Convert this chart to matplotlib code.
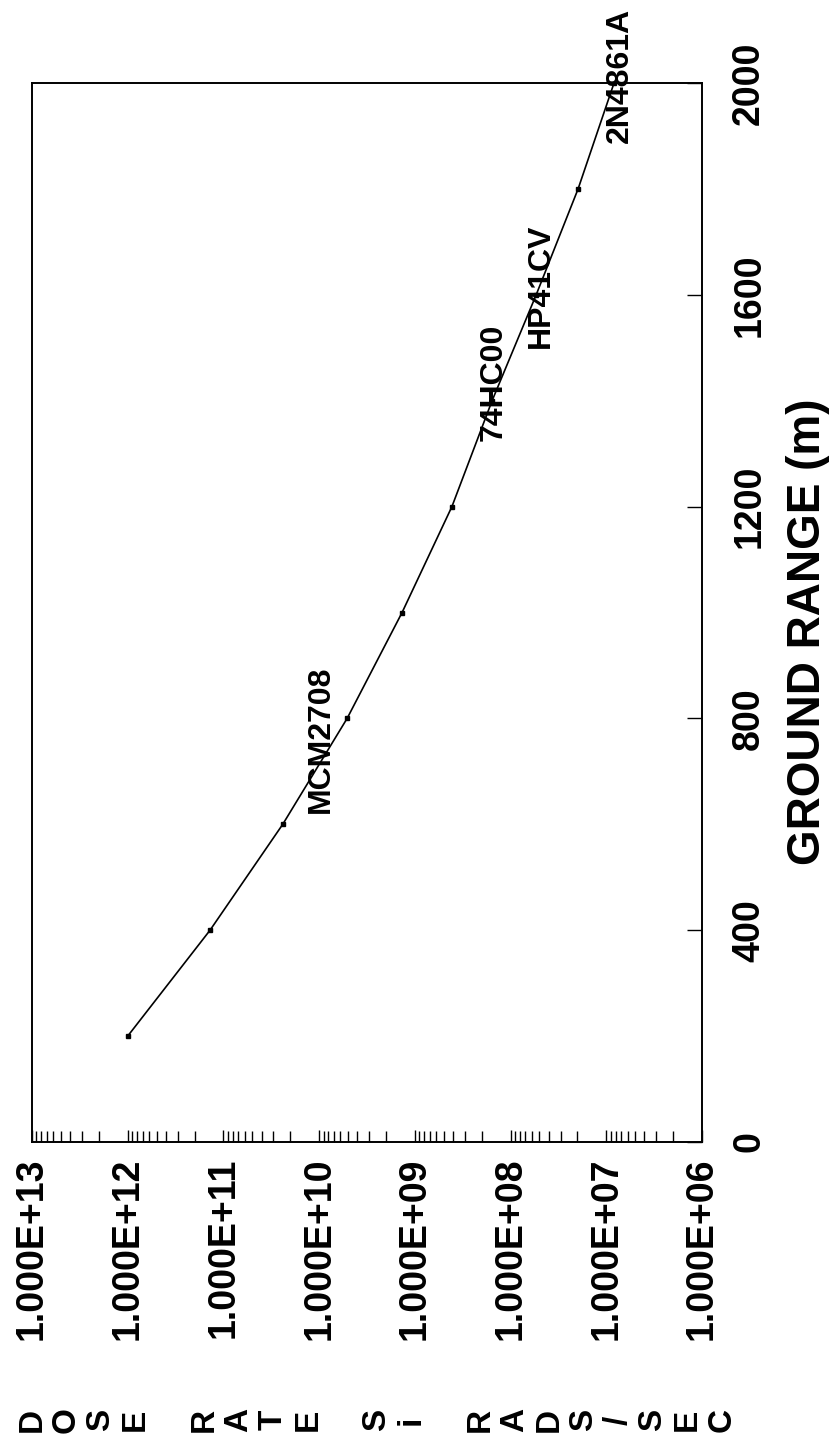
import matplotlib
matplotlib.use("Agg")
import matplotlib.pyplot as plt
from matplotlib.ticker import FixedLocator, LogLocator, FuncFormatter, NullFormatter

# dose rate vs ground range (page is printed sideways)
ground_range = [200, 400, 600, 800, 1000, 1200, 1400, 1600, 1800, 2000]
dose_rate = [1.0e12, 1.38e11, 2.4e10, 5.1e9, 1.36e9, 4.1e8, 1.56e8, 5.4e7, 1.97e7, 8.3e6]

# device names and where they sit along the curve
device_names = ["MCM2708", "74HC00", "HP41CV", "2N4861A"]
device_dose = [9.5e9, 1.49e8, 4.8e7, 7.2e6]
device_range = [761, 1435, 1617, 2015]

dose_ticks = [1e13, 1e12, 1e11, 1e10, 1e9, 1e8, 1e7, 1e6]
range_ticks = [0, 400, 800, 1200, 1600, 2000]
dose_label = "DOSE RATE Si RADS/SEC"
range_label = "GROUND RANGE (m)"

W, H = 839, 1452
plt.rcParams['font.family'] = ['Liberation Sans', 'DejaVu Sans']
plt.rcParams['font.weight'] = 'bold'

fig = plt.figure(figsize=(W / 100, H / 100), dpi=100)
ax = fig.add_axes([32 / W, 1 - 1142 / H, 670 / W, 1059 / H])

ax.plot(dose_rate, ground_range, color='black', lw=1.2,
        marker='s', ms=3.5, mfc='black', mec='black')

ax.set_xscale('log')
ax.set_xlim(dose_ticks[0], dose_ticks[-1])
ax.set_ylim(range_ticks[0], range_ticks[-1])

for sp in ax.spines.values():
    sp.set_linewidth(1.4)

# log dose axis, labels hang below the frame
ax.xaxis.set_major_locator(FixedLocator(dose_ticks))
ax.xaxis.set_minor_locator(LogLocator(base=10, subs=range(2, 10), numticks=100))
ax.xaxis.set_major_formatter(FuncFormatter(lambda v, p: f"{v:.3E}"))
ax.xaxis.set_minor_formatter(NullFormatter())
ax.tick_params(axis='x', which='both', direction='in', bottom=True, top=False,
               width=1.0, color='black')
ax.tick_params(axis='x', which='major', length=9, pad=11.5,
               labelsize=27, labelrotation=90)
ax.tick_params(axis='x', which='minor', length=8)

# ground range axis on the right side
ax.yaxis.tick_right()
ax.yaxis.set_major_locator(FixedLocator(range_ticks))
ax.tick_params(axis='y', which='both', direction='in', left=False, right=True,
               length=11, width=1.0, pad=21, labelsize=27, labelrotation=90)
for lbl in ax.get_yticklabels():
    lbl.set_va('center')
    lbl.set_ha('left')

ax.yaxis.set_label_position('right')
ax.set_ylabel(range_label, fontsize=33, fontweight='bold', rotation=90,
              ha='center', va='center')
ax.yaxis.set_label_coords((808 - 32) / 670, (1142 - 632) / 1059)

for name, d, r in zip(device_names, device_dose, device_range):
    ax.text(d, r, name, rotation=90, ha='center', va='center',
            fontsize=23, fontweight='bold')

# stacked dose-rate title, one letter per slot
slot = (722 - 32) / (len(dose_label) - 1)
for i, ch in enumerate(dose_label):
    if ch == ' ':
        continue
    fig.text((32 + i * slot) / W, 1 - 1420 / H, ch, rotation=90,
             ha='center', va='center', fontsize=24, fontweight='bold')

fig.savefig("out.png", dpi=100)
